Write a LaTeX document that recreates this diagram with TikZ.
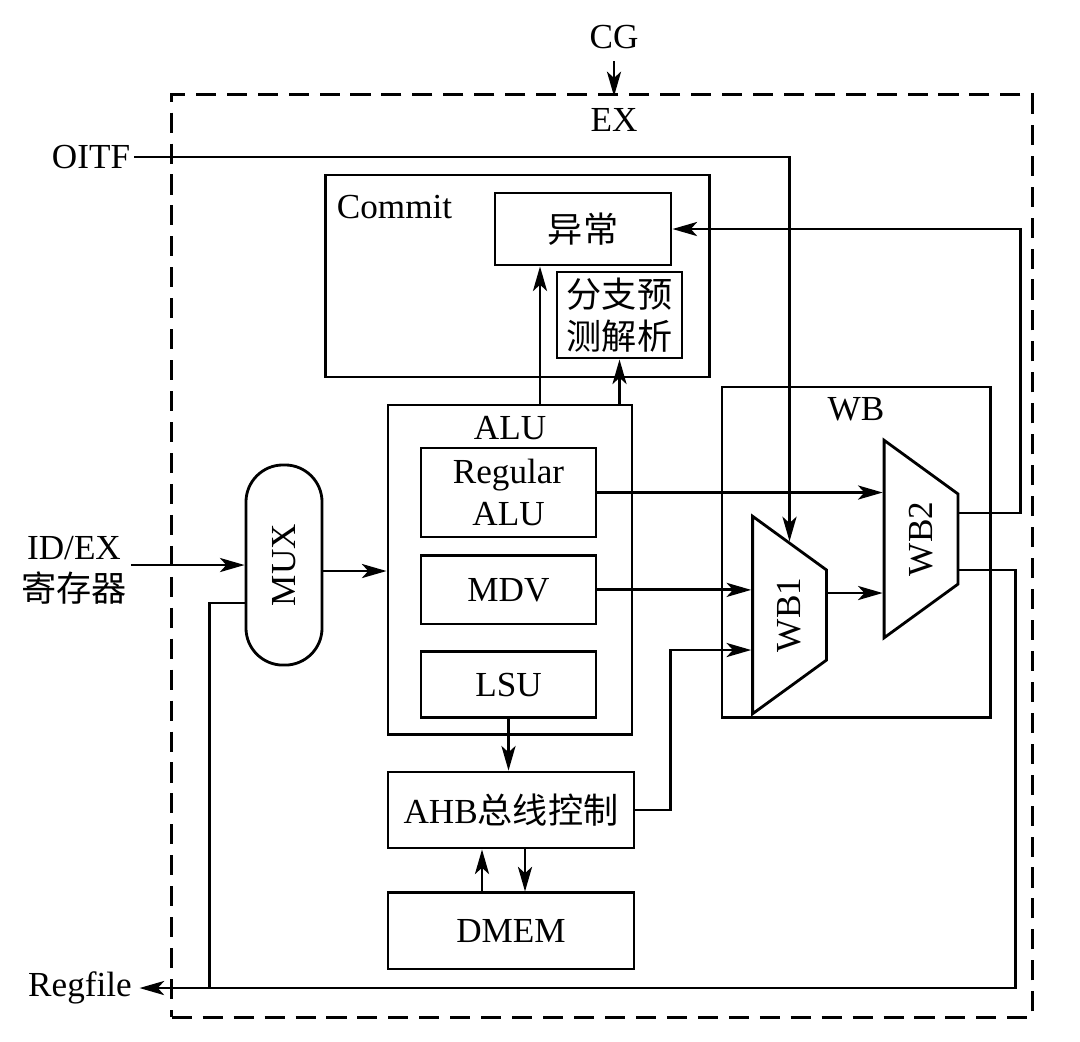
\documentclass[tikz,border=0pt]{standalone}
\usepackage{graphicx}
\usepackage{fontspec}
\setmainfont{Liberation Serif}
\newfontfamily\cjk{Noto Sans CJK SC}
\usepackage{tikz}
\usetikzlibrary{arrows.meta}
\usetikzlibrary{calc}
\usetikzlibrary{positioning}
\usetikzlibrary{shapes.geometric}
\tikzset{
  blk/.style={draw, line width=0.8pt, inner sep=0pt, align=center},
  trap/.style={draw, line width=0.8pt, trapezium, trapezium angle=126, inner xsep=0.08cm, inner ysep=0.25cm, rotate=90},
  arr/.style={line width=0.8pt, -{Stealth[length=7pt,width=4pt,inset=1.8pt]}},
  wire/.style={line width=0.8pt}
}

\begin{document}
\begin{tikzpicture}[x=0.01cm, y=-0.01cm]
  \useasboundingbox (0,0) rectangle (1080,1041);
  \node[blk, dash pattern=on 5.7pt off 3.1pt, minimum width=8.6cm, minimum height=9.22cm] (frame) at (602,556) {};
  \node (cg) at (614,37) {CG};
  \node[below=0.35cm of cg] (ex) {EX};
  \node[inner sep=1pt] (oitf) at (91,157) {OITF};
  \node[inner sep=1pt, align=center] (idex) at (74,570) {ID/EX\\{\cjk 寄存器}};
  \node[inner sep=2pt] (regfile) at (80,988) {Regfile};
  \node[blk, minimum width=3.83cm, minimum height=2.02cm] (commit) at (517.5,276) {};
  \node[below right=0.09cm and 0cm of commit.north west] (committxt) {Commit};
  \node[blk, minimum width=1.76cm, minimum height=0.72cm, font=\cjk] (yichang) at (583,229) {异常};
  \node[blk, minimum width=1.25cm, minimum height=0.86cm, font=\cjk] (predict) at (619.5,315) {分支预\\测解析};
  \node[blk, rounded corners=0.37cm, minimum width=0.76cm, minimum height=2cm] (mux) at (284,565) {\rotatebox{90}{MUX}};
  \node[blk, minimum width=2.44cm, minimum height=3.29cm] (alu) at (510,569.5) {};
  \node[below=0pt of alu.north] (alutxt) {ALU};
  \node[blk, minimum width=1.75cm, minimum height=0.89cm] (regalu) at (508.5,492.5) {Regular\\ALU};
  \node[blk, minimum width=1.75cm, minimum height=0.68cm, below=0.16cm of regalu] (mdv) {MDV};
  \node[blk, minimum width=1.75cm, minimum height=0.66cm, below=0.25cm of mdv] (lsu) {LSU};
  \node[blk, minimum width=2.46cm, minimum height=0.76cm] (ahb) at (511,810) {AHB{\cjk 总线控制}};
  \node[blk, minimum width=2.46cm, minimum height=0.76cm, below=0.42cm of ahb] (dmem) {DMEM};
  \node[blk, minimum width=2.68cm, minimum height=3.3cm] (wb) at (856,552) {};
  \node[below=0pt of wb.north] (wbtxt) {WB};
  \node[trap] (wb1) at (789.5,615) {WB1};
  \node[trap] (wb2) at (921,539) {WB2};

  \draw[arr] (cg.south) -- (ex.north);
  \draw[arr] (oitf.east) -| (wb1.east);
  \draw[arr] (idex.east |- mux.west) -- (mux.west);
  \draw[arr] ($(mux.east)+(0,6)$) coordinate (m1) -- (m1 -| alu.west);
  \draw[wire] ($(mux.west)+(0,38)$) -| ($(regfile.east)+(70,0)$);
  \draw[arr] ($(alu.north)+(30,0)$) coordinate (a1) -- (a1 |- yichang.south);
  \draw[arr] (alu.north -| predict.south) -- (predict.south);
  \draw[arr] (regalu.east) -- (regalu.east -| wb2.north);
  \draw[arr] (mdv.east) -- (mdv.east -| wb1.north);
  \draw[arr] (lsu.south) -- (lsu.south |- ahb.north);
  \draw[arr] (ahb.east) -- ++(35,0) |- ($(wb1.north)+(0,35)$);
  \draw[arr] ($(dmem.north)+(-29,0)$) coordinate (d1) -- (d1 |- ahb.south);
  \draw[arr] ($(ahb.south)+(14,0)$) coordinate (d2) -- (d2 |- dmem.north);
  \draw[arr] ($(wb1.south)+(0,-22)$) coordinate (w1) -- (w1 -| wb2.north);
  \draw[arr] ($(wb2.south)+(0,-26)$) -- ++(61,0) |- (yichang.east);
  \draw[arr] ($(wb2.south)+(0,31)$) -- ++(56,0) |- (regfile.east);
\end{tikzpicture}
\end{document}
